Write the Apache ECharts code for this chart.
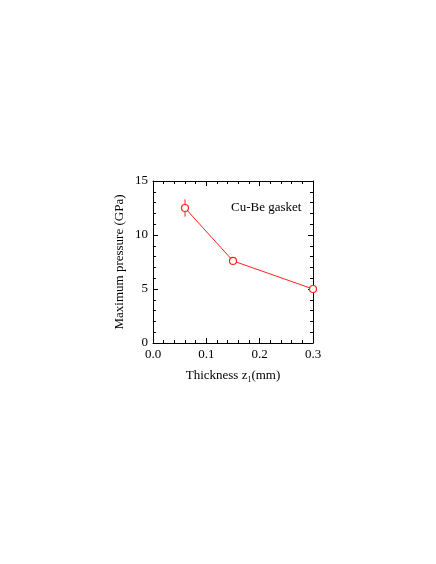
<!DOCTYPE html>
<html>
<head>
<meta charset="utf-8">
<script src="https://cdn.jsdelivr.net/npm/echarts@6/dist/echarts.min.js"></script>
<style>
  html, body { margin: 0; padding: 0; background: #fff; }
  #chart { width: 436px; height: 564px; }
</style>
</head>
<body>
<div id="chart"></div>
<script>
// data
var thickness = [0.06, 0.15, 0.3];
var pressure = [12.5, 7.6, 5.0];
var pressureErr = [0.8, 0.35, 0];
var xTicks = ['0.0', '0.1', '0.2', '0.3'];

var FONT = '"Liberation Serif", "DejaVu Serif", serif';
var RED = '#ff2020';

var points = thickness.map(function (x, i) { return [x, pressure[i]]; });
var errBars = thickness.map(function (x, i) {
    return [x, pressure[i] - pressureErr[i], pressure[i] + pressureErr[i]];
});

var tickCommon = {
    axisLine: { show: true, onZero: false, lineStyle: { color: '#000', width: 1 } },
    axisTick: { show: true, inside: true, length: 5, lineStyle: { color: '#000' } },
    minorTick: { show: true, splitNumber: 5, length: 3, lineStyle: { color: '#000' } },
    splitLine: { show: false }
};

function axis(extra) {
    return Object.assign({}, JSON.parse(JSON.stringify(tickCommon)), extra);
}

var chart = echarts.init(document.getElementById('chart'));
chart.setOption({
    animation: false,
    backgroundColor: '#fff',
    grid: { left: 153, top: 181, right: 123, bottom: 221 },
    xAxis: [
        axis({
            type: 'value', position: 'bottom', min: 0, max: 0.3, interval: 0.1,
            name: 'Thickness {s|z}{sub|1}{s|(mm)}',
            nameLocation: 'middle', nameGap: 25,
            nameTextStyle: {
                rich: {
                    s: { fontFamily: FONT, fontSize: 13, color: '#000' },
                    sub: { fontFamily: FONT, fontSize: 8, color: '#000', padding: [8, 0, 0, 0] }
                },
                fontFamily: FONT, fontSize: 13, color: '#000'
            },
            axisLabel: {
                fontFamily: FONT, fontSize: 13, color: '#000', margin: 5,
                formatter: function (v) { return xTicks[Math.round(v * 10)]; }
            }
        }),
        axis({
            type: 'value', position: 'top', min: 0, max: 0.3, interval: 0.1,
            axisLabel: { show: false }
        })
    ],
    yAxis: [
        axis({
            type: 'value', position: 'left', min: 0, max: 15, interval: 5,
            name: 'Maximum pressure (GPa)',
            nameLocation: 'middle', nameGap: 27,
            nameTextStyle: { fontFamily: FONT, fontSize: 13, color: '#000' },
            axisLabel: { fontFamily: FONT, fontSize: 13, color: '#000', margin: 5 }
        }),
        axis({
            type: 'value', position: 'right', min: 0, max: 15, interval: 5,
            axisLabel: { show: false }
        })
    ],
    graphic: [{
        type: 'text', left: 231, top: 201,
        style: { text: 'Cu-Be gasket', font: '13px ' + FONT, fill: '#000' }
    }],
    series: [
        {
            type: 'custom',
            xAxisIndex: 0, yAxisIndex: 0,
            data: errBars,
            renderItem: function (params, api) {
                var lo = api.coord([api.value(0), api.value(1)]);
                var hi = api.coord([api.value(0), api.value(2)]);
                return {
                    type: 'line',
                    shape: { x1: lo[0], y1: lo[1], x2: hi[0], y2: hi[1] },
                    style: { stroke: RED, lineWidth: 1 }
                };
            },
            z: 1
        },
        {
            type: 'line',
            xAxisIndex: 0, yAxisIndex: 0,
            data: points,
            symbol: 'circle', symbolSize: 7,
            itemStyle: { color: '#fff', borderColor: RED, borderWidth: 1.2 },
            lineStyle: { color: RED, width: 1 },
            clip: false,
            z: 3
        }
    ]
});
</script>
</body>
</html>
